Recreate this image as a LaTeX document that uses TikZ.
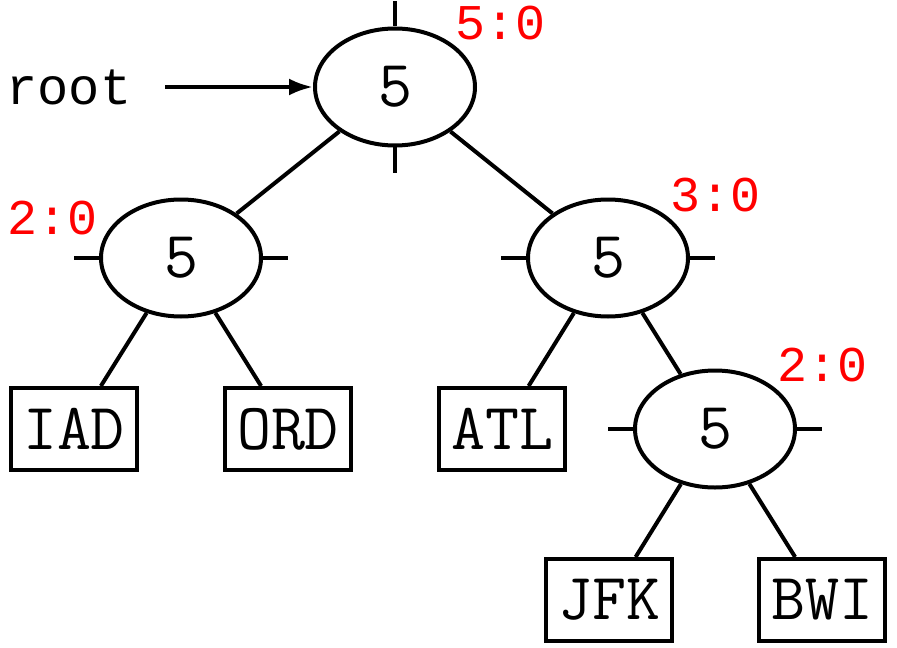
\documentclass[tikz,border=0pt]{standalone}
\usepackage{fontspec}
\usepackage{tikz}
\usetikzlibrary{shapes.geometric,arrows.meta}
\newfontfamily\countfont{Liberation Mono}
\definecolor{red}{RGB}{255,0,0}

\begin{document}
\begin{tikzpicture}[node distance=85.5pt, line width=2pt,
        inner/.style={ellipse, draw, minimum width=80pt, minimum height=58.5pt, inner sep=0pt, font=\fontsize{33}{33}\selectfont\ttfamily},
        leaf/.style={rectangle, draw, minimum width=63pt, minimum height=41pt, inner sep=0pt, font=\fontsize{33}{33}\selectfont\ttfamily},
        count/.style={text=red, inner sep=0pt, font=\fontsize{25}{25}\selectfont\countfont},
        arrow/.style={-{Latex[length=12pt, width=8.5pt]}}]

        \useasboundingbox (-197.5pt,-280pt) rectangle (251pt,43.5pt);

        \node[inner] (root) {5};
        \node[inner, below of=root, xshift=-107pt] (left) {5};
        \node[inner, below of=root, xshift=106.5pt] (right) {5};
        \node[inner, below of=right, xshift=53.5pt] (rr) {5};
        \node[leaf, below of=left, xshift=-53.5pt] (iad) {IAD};
        \node[leaf, below of=left, xshift=53.5pt] (ord) {ORD};
        \node[leaf, below of=right, xshift=-53pt] (atl) {ATL};
        \node[leaf, below of=rr, xshift=-53pt] (jfk) {JFK};
        \node[leaf, below of=rr, xshift=53.5pt] (bwi) {BWI};

        \node[inner sep=0pt, left of=root, node distance=163pt, font=\fontsize{26}{26}\selectfont\countfont] (ptr) {root};

        \node[count, xshift=53pt, yshift=31.75pt] at (root) (rootcount) {5:0};
        \node[count, xshift=-64pt, yshift=20pt] at (left) (leftcount) {2:0};
        \node[count, xshift=53.75pt, yshift=31.25pt] at (right) (rightcount) {3:0};
        \node[count, xshift=53.5pt, yshift=31.75pt] at (rr) (rrcount) {2:0};

        \draw[arrow, shorten <=16pt] (ptr) -- (root);
        \draw (root.north) -- ++(0,12.5pt);
        \draw (root.south) -- ++(0,-13pt);
        \foreach \n in {left, right, rr} {
            \draw (\n.west) -- ++(-12.5pt,0);
            \draw (\n.east) -- ++(12.5pt,0);
        }

        \draw (root) -- (left);
        \draw (root) -- (right);
        \draw (left) -- (iad);
        \draw (left) -- (ord);
        \draw (right) -- (atl);
        \draw (right) -- (rr);
        \draw (rr) -- (jfk);
        \draw (rr) -- (bwi);
    \end{tikzpicture}
\end{document}
